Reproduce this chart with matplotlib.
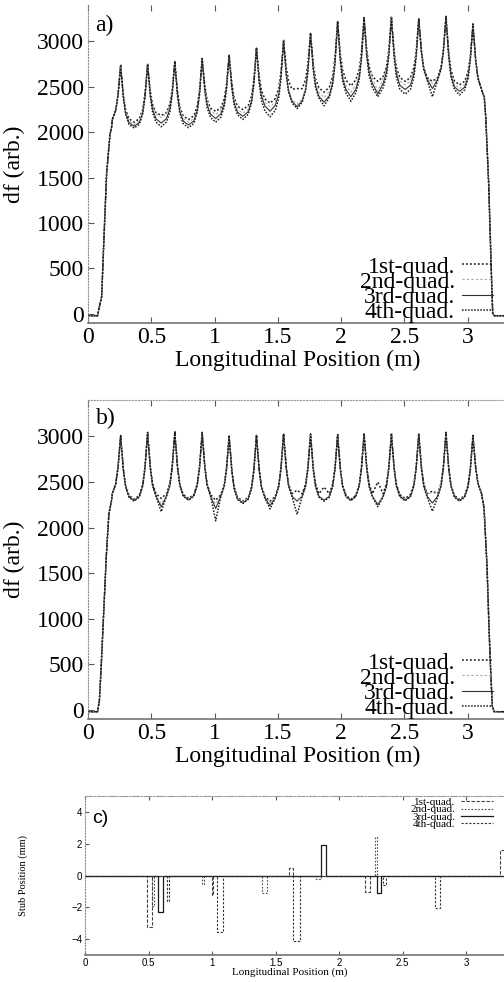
import matplotlib
matplotlib.use("Agg")
import matplotlib.pyplot as plt

plt.rcParams['font.family'] = ['Liberation Serif', 'DejaVu Serif']

# peak positions (m), shared by panels a and b
PEAK_X = [0.258, 0.471, 0.686, 0.902, 1.115, 1.331, 1.545, 1.758, 1.972, 2.181, 2.397, 2.613, 2.828, 3.041]

# panel a) peak heights and per-cell valley levels (base near the cell edge, mid at cell centre)
A_PEAK = [2740, 2750, 2780, 2810, 2850, 2930, 3010, 3090, 3220, 3260, 3265, 3250, 3275, 3190]
A_BASE_Q1 = [2110, 2180, 2140, 2230, 2250, 2330, 2440, 2450, 2530, 2570, 2560, 2560, 2520]
A_MID_Q1 = [2110, 2185, 2140, 2230, 2250, 2320, 2480, 2440, 2510, 2560, 2560, 2560, 2520]
A_BASE_Q2 = [2085, 2170, 2110, 2200, 2210, 2290, 2320, 2400, 2470, 2550, 2520, 2550, 2480]
A_MID_Q2 = [2085, 2160, 2110, 2195, 2210, 2280, 2310, 2380, 2440, 2450, 2520, 2540, 2480]
A_BASE_Q3 = [2065, 2110, 2080, 2160, 2180, 2250, 2300, 2350, 2420, 2490, 2470, 2540, 2450]
A_MID_Q3 = [2065, 2100, 2080, 2150, 2175, 2230, 2280, 2330, 2390, 2420, 2470, 2480, 2450]
A_BASE_Q4 = [2045, 2070, 2050, 2120, 2150, 2190, 2280, 2330, 2380, 2440, 2420, 2530, 2420]
A_MID_Q4 = [2045, 2060, 2050, 2110, 2140, 2170, 2260, 2290, 2340, 2390, 2420, 2390, 2410]
A_RISE_X = [0.0, 0.075, 0.09, 0.108, 0.125, 0.147, 0.174, 0.185]
A_RISE_Y = [-20, -20, 80, 190, 800, 1544, 1980, 2040]
A_TAIL_X = [3.115, 3.13, 3.142, 3.165, 3.185, 3.197, 3.21, 3.45]
A_TAIL_Y = [2440, 2390, 2160, 1430, 500, 0, -20, -20]
A_EDGES = (2100, 2430)

# panel b)
B_PEAK = [3010, 3045, 3050, 3045, 3010, 3015, 3030, 3025, 3020, 3030, 3030, 3030, 3045, 3010]
B_BASE_Q1 = [2310, 2330, 2320, 2320, 2290, 2300, 2330, 2330, 2310, 2330, 2320, 2330, 2310]
B_MID_Q1 = [2310, 2320, 2320, 2300, 2290, 2290, 2410, 2445, 2310, 2500, 2320, 2400, 2310]
B_BASE_Q2 = [2300, 2310, 2310, 2310, 2280, 2290, 2310, 2310, 2305, 2300, 2310, 2320, 2300]
B_MID_Q2 = [2300, 2260, 2310, 2260, 2280, 2270, 2300, 2310, 2305, 2270, 2310, 2390, 2300]
B_BASE_Q3 = [2295, 2300, 2305, 2300, 2270, 2285, 2300, 2300, 2300, 2300, 2300, 2300, 2295]
B_MID_Q3 = [2295, 2230, 2305, 2210, 2270, 2240, 2290, 2300, 2300, 2250, 2300, 2270, 2295]
B_BASE_Q4 = [2290, 2300, 2300, 2300, 2265, 2280, 2300, 2290, 2295, 2290, 2295, 2290, 2290]
B_MID_Q4 = [2290, 2175, 2300, 2075, 2265, 2205, 2145, 2290, 2295, 2230, 2295, 2180, 2290]
B_RISE_X = [0.0, 0.075, 0.09, 0.105, 0.125, 0.145, 0.165, 0.185]
B_RISE_Y = [-20, -20, 100, 500, 1100, 1700, 2150, 2290]
B_TAIL_X = [3.115, 3.128, 3.152, 3.168, 3.18, 3.194, 3.21, 3.45]
B_TAIL_Y = [2320, 2220, 1575, 880, 450, 36, -20, -20]
B_EDGES = (2330, 2340)

# cusp shape read off the first peak of b): distance from peak and fraction of height above valley
CUSP_DX = [0.004, 0.01, 0.021, 0.039, 0.066]
CUSP_FRAC = [0.88, 0.75, 0.48, 0.22, 0.06]

# panel c) stub pulses (start, end, mm)
C_Q1 = [(0.49, 0.525, -3.27), (0.997, 1.01, -1.25), (1.609, 1.640, 0.48), (2.205, 2.244, -1.04), (3.27, 3.32, 1.6)]
C_Q2 = [(0.525, 0.545, -1.9), (0.919, 0.937, -0.56), (1.391, 1.435, -1.08), (1.816, 1.856, -0.2), (2.283, 2.297, 2.42)]
C_Q3 = [(0.572, 0.612, -2.29), (1.856, 1.90, 1.94), (2.297, 2.328, -1.12)]
C_Q4 = [(0.643, 0.664, -1.6), (1.042, 1.084, -3.54), (1.640, 1.69, -4.1), (2.349, 2.37, -0.6), (2.756, 2.795, -2.06)]

LABELS = ['1st-quad.', '2nd-quad.', '3rd-quad.', '4th-quad.']
XTICKS = [0, 0.5, 1, 1.5, 2, 2.5, 3]
XTICKLABELS = ['0', '0.5', '1', '1.5', '2', '2.5', '3']


def build_curve(peaks, base, mid, rise_x, rise_y, tail_x, tail_y, edges):
    xs = list(rise_x)
    ys = list(rise_y)
    last = len(PEAK_X) - 1
    for j, pk in enumerate(PEAK_X):
        p = peaks[j]
        lb = edges[0] if j == 0 else base[j - 1]
        rb = edges[1] if j == last else base[j]
        for dx, fr in reversed(list(zip(CUSP_DX, CUSP_FRAC))):
            xs.append(pk - dx)
            ys.append(lb + fr * (p - lb))
        xs.append(pk)
        ys.append(p)
        for dx, fr in zip(CUSP_DX, CUSP_FRAC):
            xs.append(pk + dx)
            ys.append(rb + fr * (p - rb))
        if j < last:
            xs.append(0.5 * (pk + PEAK_X[j + 1]))
            ys.append(mid[j])
    xs += tail_x
    ys += tail_y
    return xs, ys


def build_steps(pulses):
    xs = [0.0]
    ys = [0.0]
    for s, e, v in pulses:
        xs += [s, s, e, e]
        ys += [0, v, v, 0]
    xs.append(3.45)
    ys.append(0.0)
    return xs, ys


STYLES = [dict(ls=(0, (1.2, 1.4)), color='0.1', lw=1.1),
          dict(ls=(0, (2, 2)), color='0.65', lw=0.8),
          dict(ls='-', color='0.2', lw=0.8),
          dict(ls=(0, (1, 1)), color='0.1', lw=1.1)]


def style_axes(ax, top_visible):
    ax.spines['right'].set_visible(False)
    ax.spines['left'].set_linestyle(':')
    ax.spines['left'].set_color('0.55')
    ax.spines['left'].set_linewidth(0.8)
    ax.spines['bottom'].set_color('0.45')
    ax.spines['bottom'].set_linewidth(1.2)
    if top_visible:
        ax.spines['top'].set_linestyle(':')
        ax.spines['top'].set_color('0.6')
        ax.spines['top'].set_linewidth(0.8)
    else:
        ax.spines['top'].set_visible(False)
    ax.tick_params(direction='in', top=True, right=False, color='0.35', width=0.8)


def df_panel(ax, peaks, bases, mids, rise, tail, edges, tag, tag_y, top_visible):
    order = [2, 0, 1, 3]
    lines = [None] * 4
    for q in order:
        xs, ys = build_curve(peaks, bases[q], mids[q], rise[0], rise[1], tail[0], tail[1], edges)
        lines[q], = ax.plot(xs, ys, label=LABELS[q], **STYLES[q])
    ax.set_xlim(0, 3.4)
    ax.set_ylim(-100, 3400)
    ax.set_xticks(XTICKS)
    ax.set_xticklabels(XTICKLABELS)
    ax.set_yticks([0, 500, 1000, 1500, 2000, 2500, 3000])
    ax.tick_params(labelsize=17, length=4, pad=3)
    style_axes(ax, top_visible)
    ax.set_ylabel('df (arb.)', fontsize=17)
    ax.yaxis.set_label_coords(-0.146, 0.5)
    ax.set_xlabel('Longitudinal Position (m)', fontsize=17)
    ax.xaxis.set_label_coords(0.487, -0.085)
    ax.text(0.06, tag_y, tag, fontsize=17, va='center')
    ax.legend(handles=lines, loc='lower right', bbox_to_anchor=(0.94, 0.0),
              frameon=False, markerfirst=False, fontsize=17, handlelength=1.3,
              handletextpad=0.3, labelspacing=-0.27, borderpad=0.0, borderaxespad=0.0)


fig = plt.figure(figsize=(5.04, 9.82), dpi=100)

ax_a = fig.add_axes([88 / 504, 1 - 323 / 982, 3.4 * 126.6 / 504, 318 / 982])
df_panel(ax_a, A_PEAK,
         [A_BASE_Q1, A_BASE_Q2, A_BASE_Q3, A_BASE_Q4],
         [A_MID_Q1, A_MID_Q2, A_MID_Q3, A_MID_Q4],
         (A_RISE_X, A_RISE_Y), (A_TAIL_X, A_TAIL_Y), A_EDGES, 'a)', 3170, False)

ax_b = fig.add_axes([88 / 504, 1 - 719 / 982, 3.4 * 126.6 / 504, 319 / 982])
df_panel(ax_b, B_PEAK,
         [B_BASE_Q1, B_BASE_Q2, B_BASE_Q3, B_BASE_Q4],
         [B_MID_Q1, B_MID_Q2, B_MID_Q3, B_MID_Q4],
         (B_RISE_X, B_RISE_Y), (B_TAIL_X, B_TAIL_Y), B_EDGES, 'b)', 3200, True)

# panel c) stub positions
ax_c = fig.add_axes([85 / 504, 1 - 955 / 982, 3.4 * 127 / 504, 159 / 982])
c_styles = [dict(ls=(0, (3, 1.5)), color='0.25', lw=0.8),
            dict(ls=(0, (1.5, 1.5)), color='0.3', lw=0.8),
            dict(ls='-', color='0.1', lw=0.9),
            dict(ls=(0, (2, 1.5)), color='0.2', lw=0.8)]
c_lines = []
for pulses, st, lab in zip([C_Q1, C_Q2, C_Q3, C_Q4], c_styles, LABELS):
    xs, ys = build_steps(pulses)
    ln, = ax_c.plot(xs, ys, label=lab, **st)
    c_lines.append(ln)
ax_c.set_xlim(0, 3.4)
ax_c.set_ylim(-5, 5)
ax_c.set_xticks(XTICKS)
ax_c.set_xticklabels(XTICKLABELS)
ax_c.set_yticks([-4, -2, 0, 2, 4])
ax_c.tick_params(labelsize=7, length=3, pad=2)
for lab in ax_c.get_xticklabels() + ax_c.get_yticklabels():
    lab.set_family(['Liberation Sans', 'DejaVu Sans'])
style_axes(ax_c, True)
ax_c.spines['top'].set_linestyle('-.')
ax_c.set_ylabel('Stub Position (mm)', fontsize=7.5)
ax_c.yaxis.set_label_coords(-0.132, 0.5)
ax_c.set_xlabel('Longitudinal Position (m)', fontsize=8)
ax_c.xaxis.set_label_coords(0.475, -0.075)
ax_c.text(0.055, 3.56, 'c)', fontsize=14, va='center', family=['Liberation Sans', 'DejaVu Sans'])
ax_c.legend(handles=c_lines, loc='upper right', bbox_to_anchor=(0.945, 0.99),
            frameon=False, markerfirst=False, fontsize=8, handlelength=2.9,
            handletextpad=0.5, labelspacing=-0.24, borderpad=0.0, borderaxespad=0.0)

fig.savefig('out.png', dpi=100)
